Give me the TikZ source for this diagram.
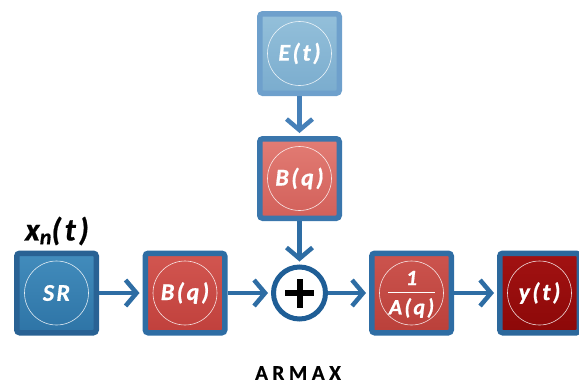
\documentclass[tikz,border=0pt]{standalone}
\usepackage{fontspec}
\setmainfont{Carlito}
\newfontfamily\boxfont[LetterSpace=10,BoldItalicFeatures={FakeBold=0.7}]{Carlito}
\newfontfamily\titlefont[LetterSpace=22,BoldFeatures={FakeBold=0.6}]{Carlito}
\usetikzlibrary{arrows.meta}
\definecolor{arrblue}{HTML}{2E6DA4}
\definecolor{ringblue}{HTML}{1F5E96}
\tikzset{
  blk/.style={draw=arrblue, line width=5.5pt, rounded corners=3pt, minimum size=79.5pt, inner sep=0pt,
    text=white, font=\boxfont\bfseries\itshape\fontsize{24}{26}\selectfont},
  ring/.style={draw=white, line width=0.6pt, draw opacity=0.85},
  arr/.style={draw=arrblue, line width=4.5pt, -{Straight Barb[length=11pt,width=26pt]}, shorten >=3pt},
}
\begin{document}
\begin{tikzpicture}[x=1pt,y=-1pt]
\useasboundingbox (0,0) rectangle (579,386);
% boxes
\node[blk, draw=arrblue!90!black, top color={rgb,255:red,66;green,140;blue,188}, bottom color={rgb,255:red,46;green,116;blue,166}] (sr) at (56.5,293) {SR};
\node[blk, top color={rgb,255:red,210;green,86;blue,80}, bottom color={rgb,255:red,192;green,64;blue,60}] (b1) at (185,293) {B(q)};
\node[blk, draw={rgb,255:red,110;green,160;blue,204}, top color={rgb,255:red,148;green,192;blue,218}, bottom color={rgb,255:red,122;green,172;blue,206}] (e) at (299.5,53.5) {E(t)};
\node[blk, draw={rgb,255:red,58;green,118;blue,172}, top color={rgb,255:red,226;green,124;blue,116}, bottom color={rgb,255:red,210;green,96;blue,90}] (b2) at (299.5,178.5) {B(q)};
\node[blk, top color={rgb,255:red,204;green,84;blue,78}, bottom color={rgb,255:red,186;green,64;blue,58}] (a) at (411.5,293) {};
\node[blk, draw=arrblue!95!black, top color={rgb,255:red,162;green,18;blue,18}, bottom color={rgb,255:red,140;green,8;blue,8}] (y) at (539.5,293) {y(t)};
% inner rings
\foreach \n in {sr,b1,e,b2,a,y} \draw[ring] (\n.center) circle[radius=32];
% fraction
\node[text=white, font=\boxfont\bfseries\itshape\fontsize{22}{24}\selectfont, inner sep=0pt] (anum) at (411.5,278) {1};
\node[text=white, font=\boxfont\bfseries\itshape\fontsize{22}{24}\selectfont, inner sep=0pt] (aden) at (411.5,308) {A(q)};
\coordinate (fl) at (388,292.5);
\coordinate (fr) at (435,292.5);
\draw[white, line width=1.8pt] (fl) -- (fr);
% summing junction
\node[circle, draw=ringblue, line width=5pt, fill=white, minimum size=52pt, inner sep=0pt] (p) at (299.5,293) {};
\draw[black, line width=6pt] ([xshift=-14.5pt]p.center) -- ([xshift=14.5pt]p.center);
\draw[black, line width=6pt] ([yshift=-14.5pt]p.center) -- ([yshift=14.5pt]p.center);
% arrows
\draw[arr] (sr.east) -- (b1.west);
\draw[arr] (b1.east) -- (p.west);
\draw[arr] (p.east) -- (a.west);
\draw[arr] (a.east) -- (y.west);
\draw[arr, draw={rgb,255:red,70;green,128;blue,184}] (e.south) -- (b2.north);
\draw[arr] (b2.south) -- (p.north);
% labels
\node[font=\boxfont\bfseries\itshape\fontsize{32}{34}\selectfont, inner sep=0pt] (xn) at (57,231) {x\raisebox{-0.25ex}{\fontsize{22}{23}\selectfont n}(t)};
\node[font=\titlefont\bfseries\fontsize{21}{23}\selectfont, inner sep=0pt] (title) at (298,373) {ARMAX};
\end{tikzpicture}
\end{document}
